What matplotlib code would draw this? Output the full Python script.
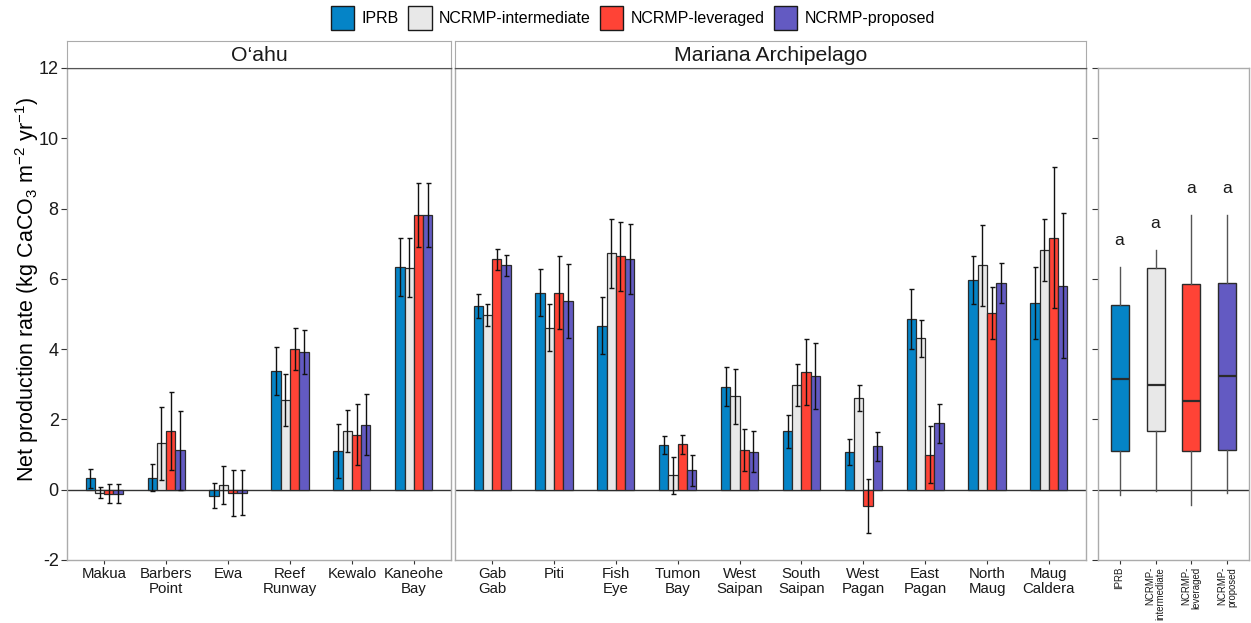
import numpy as np
import matplotlib.pyplot as plt
from matplotlib.patches import Patch

plt.rcParams['font.family'] = ['Liberation Sans', 'DejaVu Sans']
plt.rcParams['mathtext.fontset'] = 'custom'
plt.rcParams['mathtext.rm'] = 'Liberation Sans'
plt.rcParams['mathtext.it'] = 'Liberation Sans:italic'
plt.rcParams['axes.unicode_minus'] = False

methods = ['IPRB', 'NCRMP-intermediate', 'NCRMP-leveraged', 'NCRMP-proposed']
box_labels = ['IPRB', 'NCRMP-\nintermediate', 'NCRMP-\nleveraged', 'NCRMP-\nproposed']
colors = ['#0584C7', '#E8E8E8', '#FF4336', '#635AC2']

# O'ahu sites: mean and error per method
oahu_sites = ['Makua', 'Barbers\nPoint', 'Ewa', 'Reef\nRunway', 'Kewalo', 'Kaneohe\nBay']
oahu_iprb = [0.32, 0.34, -0.17, 3.37, 1.11, 6.33]
oahu_inter = [-0.08, 1.32, 0.13, 2.55, 1.66, 6.32]
oahu_lev = [-0.11, 1.66, -0.09, 4.00, 1.57, 7.82]
oahu_prop = [-0.11, 1.12, -0.08, 3.92, 1.85, 7.82]
oahu_iprb_err = [0.28, 0.38, 0.35, 0.68, 0.77, 0.83]
oahu_inter_err = [0.16, 1.04, 0.55, 0.73, 0.60, 0.85]
oahu_lev_err = [0.27, 1.11, 0.66, 0.59, 0.86, 0.90]
oahu_prop_err = [0.27, 1.12, 0.64, 0.63, 0.86, 0.90]

# Mariana sites
mar_sites = ['Gab\nGab', 'Piti', 'Fish\nEye', 'Tumon\nBay', 'West\nSaipan', 'South\nSaipan',
             'West\nPagan', 'East\nPagan', 'North\nMaug', 'Maug\nCaldera']
mar_iprb = [5.22, 5.61, 4.66, 1.27, 2.93, 1.66, 1.07, 4.86, 5.97, 5.31]
mar_inter = [4.98, 4.61, 6.73, 0.41, 2.66, 2.97, 2.61, 4.31, 6.39, 6.82]
mar_lev = [6.56, 5.61, 6.64, 1.29, 1.12, 3.34, -0.46, 1.00, 5.02, 7.17]
mar_prop = [6.39, 5.37, 6.56, 0.55, 1.08, 3.24, 1.23, 1.89, 5.88, 5.81]
mar_iprb_err = [0.34, 0.66, 0.81, 0.25, 0.56, 0.48, 0.38, 0.86, 0.69, 1.03]
mar_inter_err = [0.31, 0.67, 0.98, 0.53, 0.78, 0.60, 0.36, 0.52, 1.15, 0.89]
mar_lev_err = [0.30, 1.05, 0.99, 0.26, 0.60, 0.94, 0.76, 0.80, 0.74, 2.01]
mar_prop_err = [0.30, 1.06, 1.00, 0.44, 0.59, 0.94, 0.40, 0.56, 0.56, 2.05]

# boxplot summary per method
box_whislo = [-0.15, -0.05, -0.43, -0.10]
box_q1 = [1.11, 1.67, 1.10, 1.13]
box_med = [3.16, 2.98, 2.52, 3.25]
box_q3 = [5.26, 6.31, 5.86, 5.89]
box_whishi = [6.35, 6.81, 7.83, 7.83]
letters = ['a', 'a', 'a', 'a']
letter_y = [7.08, 7.58, 8.57, 8.57]

W, H = 1251, 623
fig = plt.figure(figsize=(W / 100, H / 100), dpi=100)

frame_col = '#ABABAB'
dark = '#333333'


def px_axes(x0, x1, y0, y1):
    return fig.add_axes([x0 / W, 1 - y1 / H, (x1 - x0) / W, (y1 - y0) / H])


def style(ax):
    for s in ax.spines.values():
        s.set_color(frame_col)
        s.set_linewidth(1)
    ax.set_ylim(-2, 12)
    ax.set_yticks(np.arange(-2, 13, 2))
    ax.tick_params(axis='both', colors=dark, labelcolor='#1a1a1a', width=0.8)
    ax.tick_params(axis='x', length=3, pad=2, labelsize=10.8)
    ax.tick_params(axis='y', length=4, pad=2, labelsize=13)
    ax.axhline(0, color=dark, lw=1, zorder=1)


def strip(x0, x1, title):
    s = px_axes(x0, x1, 41, 68)
    s.set_xticks([])
    s.set_yticks([])
    for sp in s.spines.values():
        sp.set_color(frame_col)
    s.spines['bottom'].set_color('#555555')
    s.text(0.5, 0.45, title, ha='center', va='center', fontsize=15.3, color='#1a1a1a')


def draw_bars(ax, sites, vals, errs):
    x = np.arange(len(sites)) + 1
    w = 0.15
    for i in range(4):
        xi = x + (i - 1.5) * w
        ax.bar(xi, vals[i], width=w, color=colors[i], edgecolor='#2b2b2b', lw=0.9, zorder=2)
        ax.errorbar(xi, vals[i], yerr=errs[i], fmt='none', ecolor='#111111',
                    elinewidth=1, capsize=1.8, capthick=1, zorder=3)
    ax.set_xlim(0.4, len(sites) + 0.6)
    ax.set_xticks(x)
    ax.set_xticklabels(sites, linespacing=1.1)


# O'ahu panel
ax1 = px_axes(67, 451, 68, 560)
style(ax1)
ax1.spines['top'].set_color('#555555')
draw_bars(ax1, oahu_sites,
          [oahu_iprb, oahu_inter, oahu_lev, oahu_prop],
          [oahu_iprb_err, oahu_inter_err, oahu_lev_err, oahu_prop_err])
ax1.set_ylabel(r'Net production rate (kg CaCO$_3$ m$^{-2}$ yr$^{-1}$)', fontsize=15.5)
ax1.yaxis.set_label_coords(-26 / 384, 0.55)
strip(67, 451, 'O\u2018ahu')

# Mariana panel
ax2 = px_axes(455, 1086, 68, 560)
style(ax2)
ax2.spines['top'].set_color('#555555')
draw_bars(ax2, mar_sites,
          [mar_iprb, mar_inter, mar_lev, mar_prop],
          [mar_iprb_err, mar_inter_err, mar_lev_err, mar_prop_err])
ax2.tick_params(axis='y', left=False, labelleft=False)
strip(455, 1086, 'Mariana Archipelago')

# boxplot panel
ax3 = px_axes(1098, 1249, 68, 560)
style(ax3)
ax3.tick_params(axis='y', labelleft=False)
stats = []
for i in range(4):
    stats.append({'whislo': box_whislo[i], 'q1': box_q1[i], 'med': box_med[i],
                  'q3': box_q3[i], 'whishi': box_whishi[i], 'fliers': []})
bp = ax3.bxp(stats, positions=[1, 2, 3, 4], widths=0.5, patch_artist=True, showcaps=False,
             boxprops=dict(edgecolor='#2b2b2b', lw=1),
             medianprops=dict(color='#2b2b2b', lw=1.6),
             whiskerprops=dict(color='#555555', lw=1), zorder=2)
for patch, c in zip(bp['boxes'], colors):
    patch.set_facecolor(c)
for i in range(4):
    ax3.text(i + 1, letter_y[i], letters[i], ha='center', va='center', fontsize=12.5, color='#1a1a1a')
ax3.set_xlim(0.4, 4.6)
ax3.set_xticks([1, 2, 3, 4])
ax3.set_xticklabels(box_labels, rotation=90, fontsize=6.9, va='top', ha='center',
                    multialignment='right', linespacing=1.0)

# legend on top
handles = [Patch(facecolor=c, edgecolor='#1a1a1a', lw=1) for c in colors]
fig.legend(handles, methods, loc='center', bbox_to_anchor=(633 / W, 1 - 18 / H), ncol=4,
           frameon=False, fontsize=11.5, handlelength=1.45, handleheight=2.0,
           handletextpad=0.45, columnspacing=0.6)

fig.savefig('out.png', dpi=100)
